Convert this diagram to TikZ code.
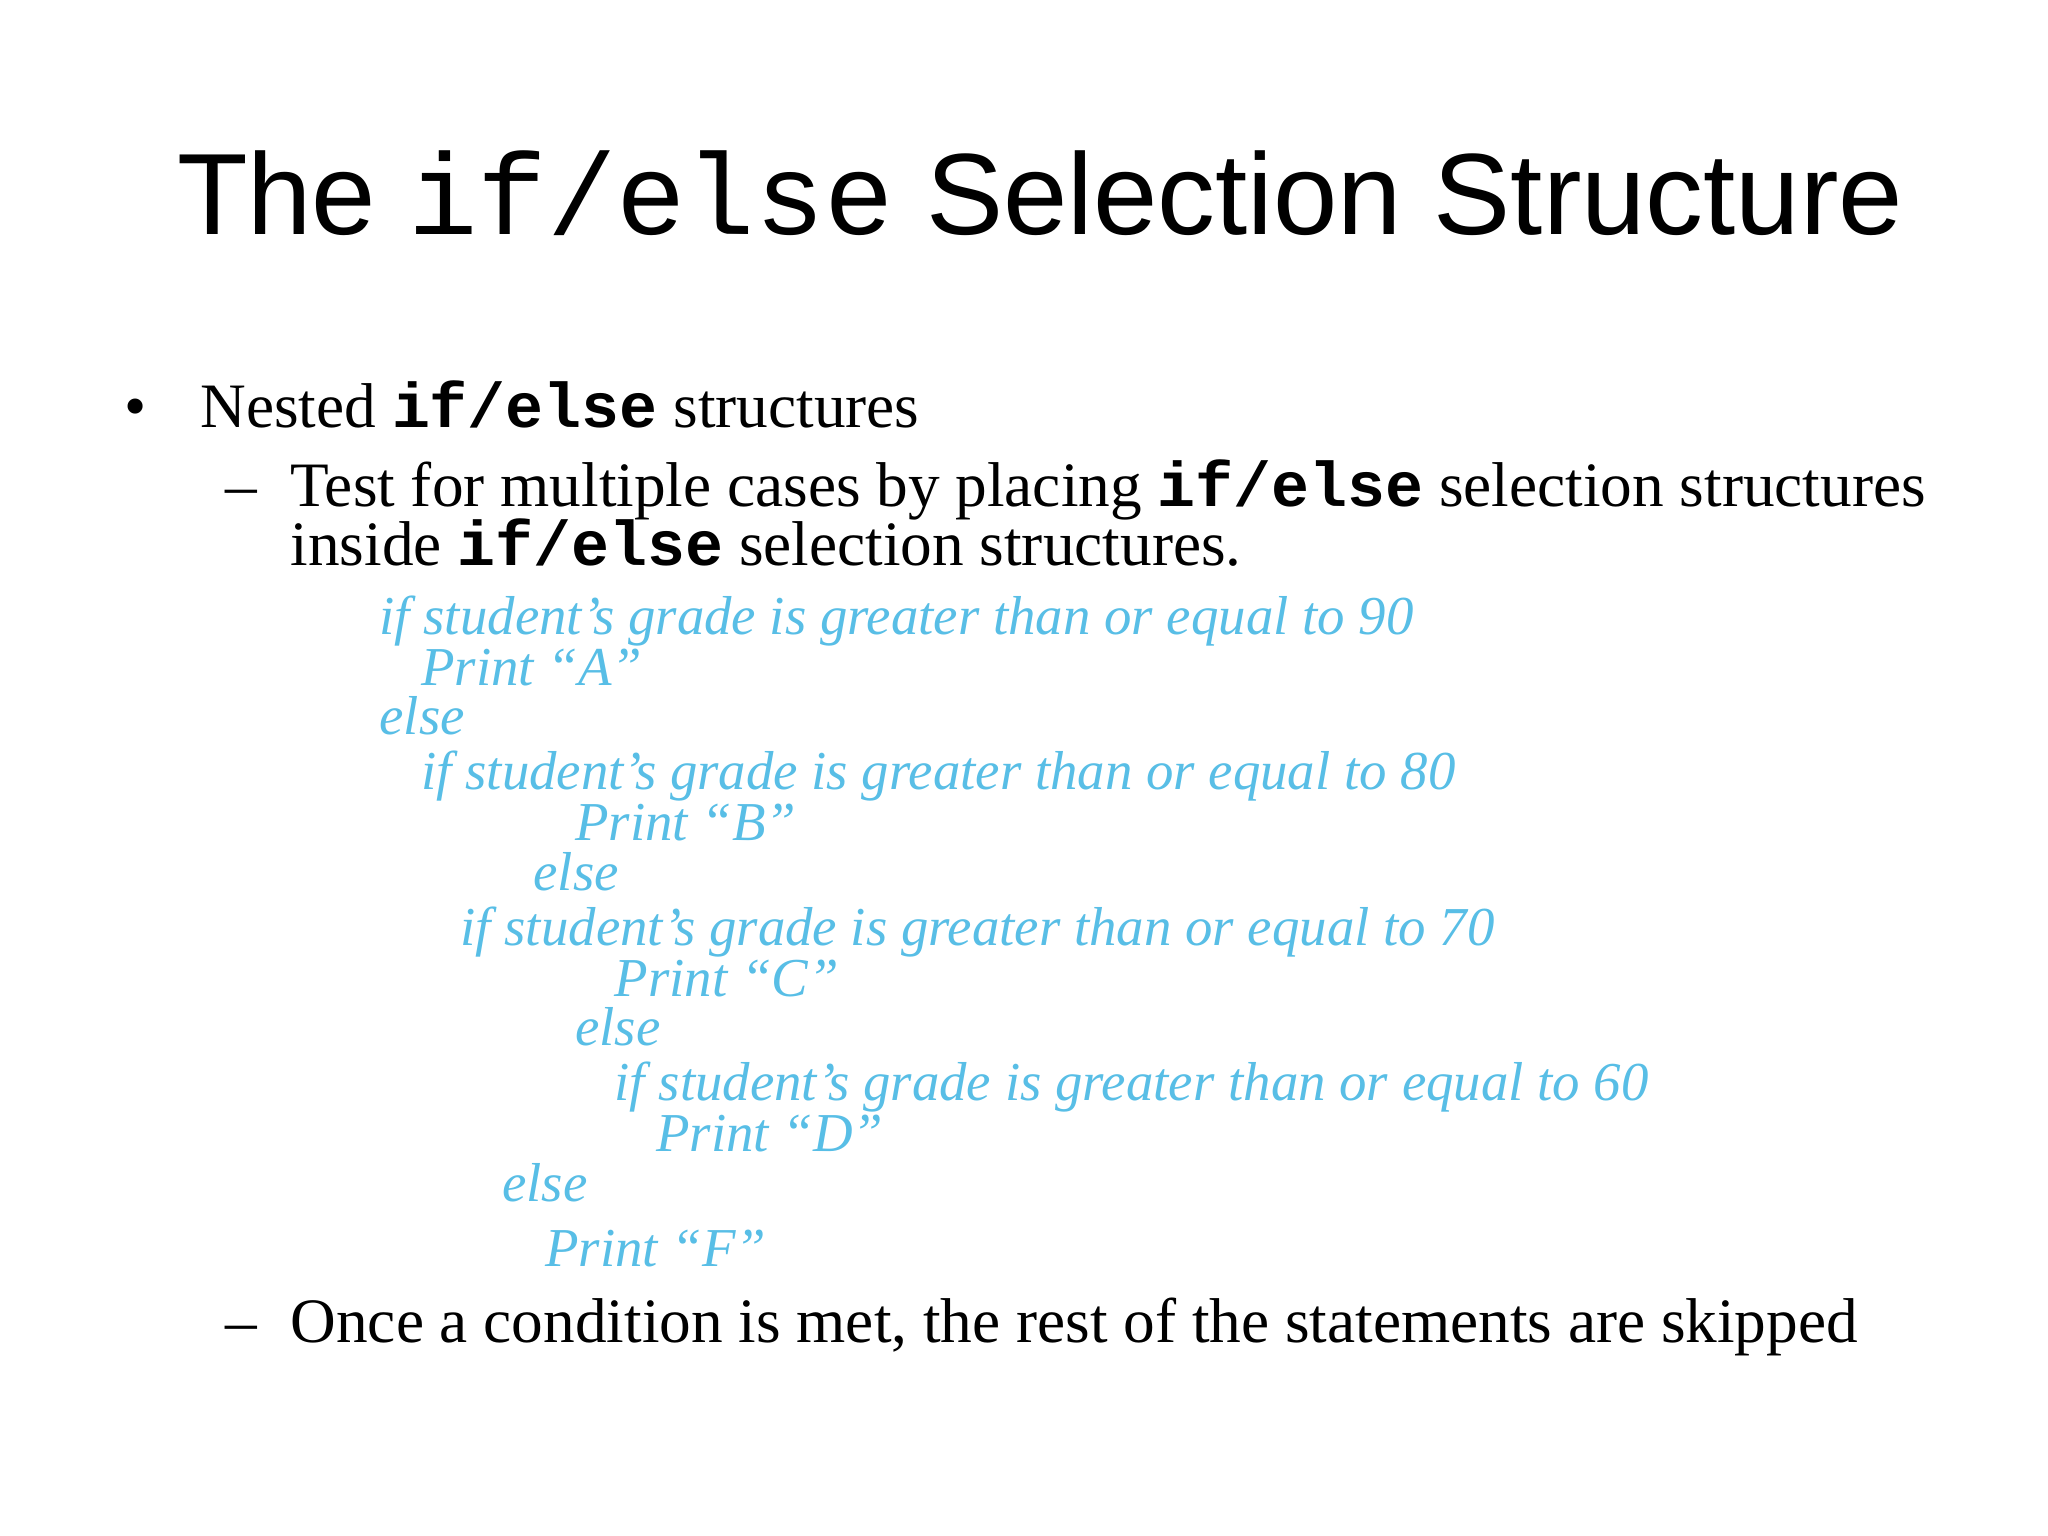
\documentclass[tikz,border=0pt]{standalone}
\usepackage{fontspec}
\setmainfont{Liberation Serif}
\setsansfont{Liberation Sans}
\setmonofont{Liberation Mono}
\definecolor{pc}{RGB}{88,190,230}
\begin{document}
\begin{tikzpicture}[x=0.01306cm,y=-0.01306cm,
  t/.style={anchor=base west,inner sep=0pt},
  body/.style={t,font=\fontsize{18}{21}\selectfont},
  code/.style={t,text=pc,font=\fontsize{15.6}{18}\selectfont\itshape}]
\fill[white] (0,0) rectangle (1568,1176);
\begin{scope}[yshift=-0.1cm]
\node[t,font=\sffamily\fontsize{32.9}{40}\selectfont] (title) at (135,172) {The {\ttfamily if/else} Selection Structure};
\node[body] (b1) at (95,320) {\textbullet};
\node[body] (l1) at (153,320) {Nested \textbf{\ttfamily if/else} structures};
\node[body] (d1) at (172,380) {--};
\node[body] (l2) at (222,380) {Test for multiple cases by placing \textbf{\ttfamily if/else} selection structures};
\node[body] (l3) at (222,425) {inside \textbf{\ttfamily if/else} selection structures.};
\node[code] (c1) at (290,478) {if student’s grade is greater than or equal to 90};
\node[code] (c2) at (322,517) {Print “A”};
\node[code] (c3) at (290,555) {else};
\node[code] (c4) at (322,597) {if student’s grade is greater than or equal to 80};
\node[code] (c5) at (440,636) {Print “B”};
\node[code] (c6) at (408,674) {else};
\node[code] (c7) at (352,716) {if student’s grade is greater than or equal to 70};
\node[code] (c8) at (470,755) {Print “C”};
\node[code] (c9) at (440,793) {else};
\node[code] (c10) at (470,835) {if student’s grade is greater than or equal to 60};
\node[code] (c11) at (502,874) {Print “D”};
\node[code] (c12) at (384,912) {else};
\node[code] (c13) at (417,962) {Print “F”};
\node[body] (d2) at (172,1020) {--};
\node[body] (l4) at (222,1020) {Once a condition is met, the rest of the statements are skipped};
\end{scope}
\end{tikzpicture}
\end{document}
